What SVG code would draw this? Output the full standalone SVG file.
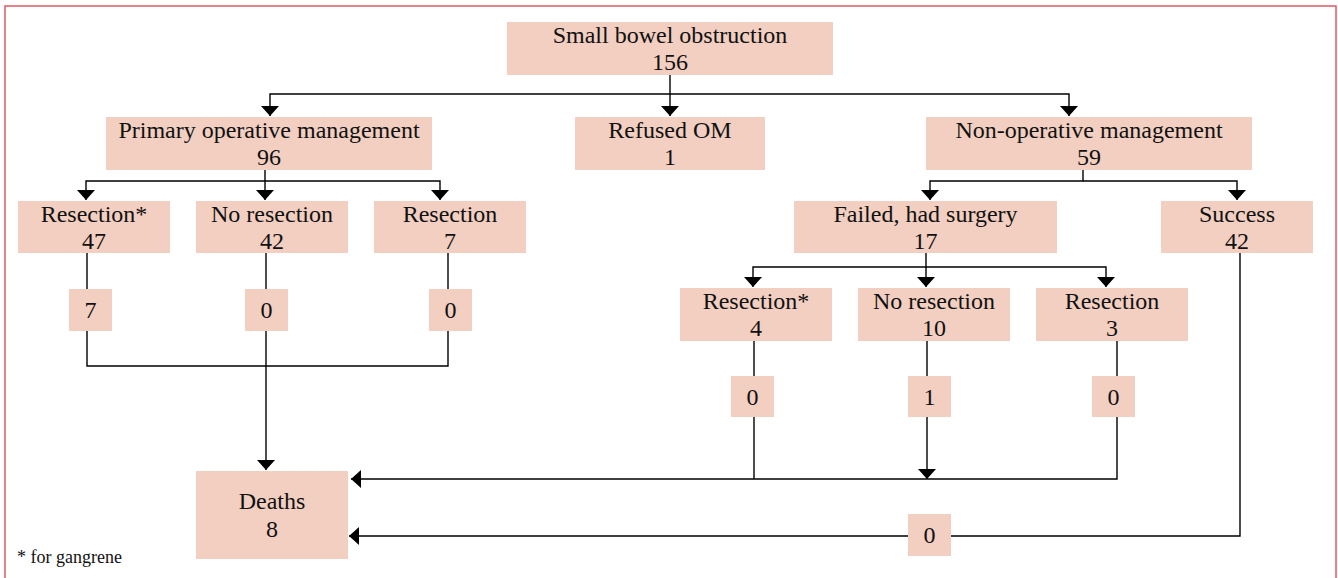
<svg xmlns="http://www.w3.org/2000/svg" width="1338" height="578" viewBox="0 0 1338 578">
<style>
.box{fill:#f2cfc1}
.t{font-family:"Liberation Serif","Times New Roman",serif;font-size:24px;fill:#111;text-anchor:middle}
.c{fill:none;stroke:#000;stroke-width:1.4}
.a{marker-end:url(#arr)}
.note{font-family:"Liberation Serif","Times New Roman",serif;font-size:18px;fill:#111}
</style>
<defs>
<marker id="arr" viewBox="0 0 10 18" refX="10" refY="9" markerWidth="10" markerHeight="18" markerUnits="userSpaceOnUse" orient="auto">
<path d="M0,0 L10,9 L0,18 z" fill="#000"/>
</marker>
</defs>
<rect x="0" y="0" width="1338" height="578" fill="#fff"/>
<rect x="5" y="6" width="1331" height="600" fill="none" stroke="#e05a64" stroke-width="1.5"/>

<g id="connectors">
<path class="c a" d="M670,75 V116"/>
<path class="c a" d="M670,94 H270 V116"/>
<path class="c a" d="M670,94 H1069 V116"/>
<path class="c a" d="M265,170 V181 H86 V200"/>
<path class="c a" d="M265,181 V200"/>
<path class="c a" d="M265,181 H440 V200"/>
<path class="c" d="M87,253 V289"/>
<path class="c" d="M266,253 V289"/>
<path class="c" d="M448,253 V289"/>
<path class="c" d="M87,331 V366 H448 V331"/>
<path class="c a" d="M266,331 V470"/>
<path class="c a" d="M1083,170 V181 H930 V200"/>
<path class="c a" d="M1083,181 H1237 V200"/>
<path class="c a" d="M926,253 V267 H753 V287"/>
<path class="c a" d="M926,267 V287"/>
<path class="c a" d="M926,267 H1106 V287"/>
<path class="c" d="M754,341 V376"/>
<path class="c" d="M927,341 V376"/>
<path class="c" d="M1117,341 V376"/>
<path class="c" d="M754,417 V479"/>
<path class="c a" d="M927,417 V479"/>
<path class="c a" d="M1117,417 V479 H351"/>
<path class="c a" d="M1240,253 V536 H349"/>
</g>

<g id="n_sbo"><rect class="box" x="507" y="22" width="326" height="53"/><text class="t" x="670" y="43">Small bowel obstruction</text><text class="t" x="670" y="70">156</text></g>
<g id="n_pom"><rect class="box" x="106" y="117" width="326" height="53"/><text class="t" x="269" y="138">Primary operative management</text><text class="t" x="269" y="165">96</text></g>
<g id="n_ref"><rect class="box" x="575" y="117" width="190" height="53"/><text class="t" x="670" y="138">Refused OM</text><text class="t" x="670" y="165">1</text></g>
<g id="n_nom"><rect class="box" x="926" y="117" width="326" height="53"/><text class="t" x="1089" y="138">Non-operative management</text><text class="t" x="1089" y="165">59</text></g>

<g id="n_res1"><rect class="box" x="18" y="201" width="152" height="52"/><text class="t" x="94" y="222">Resection*</text><text class="t" x="94" y="249">47</text></g>
<g id="n_nores1"><rect class="box" x="196" y="201" width="152" height="52"/><text class="t" x="272" y="222">No resection</text><text class="t" x="272" y="249">42</text></g>
<g id="n_res2"><rect class="box" x="374" y="201" width="152" height="52"/><text class="t" x="450" y="222">Resection</text><text class="t" x="450" y="249">7</text></g>
<g id="n_failed"><rect class="box" x="794" y="201" width="263" height="52"/><text class="t" x="925.5" y="222">Failed, had surgery</text><text class="t" x="925.5" y="249">17</text></g>
<g id="n_success"><rect class="box" x="1161" y="201" width="152" height="52"/><text class="t" x="1237" y="222">Success</text><text class="t" x="1237" y="249">42</text></g>

<g id="n_res3"><rect class="box" x="680" y="288" width="152" height="53"/><text class="t" x="756" y="309">Resection*</text><text class="t" x="756" y="336">4</text></g>
<g id="n_nores2"><rect class="box" x="858" y="288" width="152" height="53"/><text class="t" x="934" y="309">No resection</text><text class="t" x="934" y="336">10</text></g>
<g id="n_res4"><rect class="box" x="1036" y="288" width="152" height="53"/><text class="t" x="1112" y="309">Resection</text><text class="t" x="1112" y="336">3</text></g>

<g id="n_d1"><rect class="box" x="69" y="289" width="43" height="42"/><text class="t" x="90.5" y="318">7</text></g>
<g id="n_d2"><rect class="box" x="245" y="289" width="43" height="42"/><text class="t" x="266.5" y="318">0</text></g>
<g id="n_d3"><rect class="box" x="429" y="289" width="43" height="42"/><text class="t" x="450.5" y="318">0</text></g>
<g id="n_d4"><rect class="box" x="731" y="376" width="43" height="41"/><text class="t" x="752.5" y="405">0</text></g>
<g id="n_d5"><rect class="box" x="908" y="376" width="43" height="41"/><text class="t" x="929.5" y="405">1</text></g>
<g id="n_d6"><rect class="box" x="1092" y="376" width="43" height="41"/><text class="t" x="1113.5" y="405">0</text></g>
<g id="n_d7"><rect class="box" x="908" y="514" width="43" height="42"/><text class="t" x="929.5" y="543">0</text></g>

<g id="n_deaths"><rect class="box" x="196" y="471" width="152" height="88"/><text class="t" x="272" y="509">Deaths</text><text class="t" x="272" y="537">8</text></g>

<g id="footnote"><text class="note" x="17" y="563">* for gangrene</text></g>
</svg>
